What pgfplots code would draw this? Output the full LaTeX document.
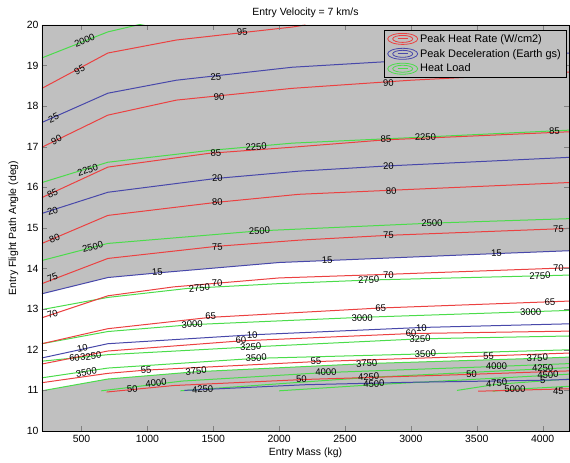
\documentclass[border=0pt]{standalone}
\usepackage{fontspec}
\setmainfont{Liberation Sans}
\usepackage{pgfplots}
\pgfplotsset{compat=1.18}

\definecolor{heatred}{RGB}{235,65,65}
\definecolor{decelblue}{RGB}{72,72,170}
\definecolor{loadgreen}{RGB}{75,220,75}
\definecolor{shade}{RGB}{192,192,192}

\pgfplotsset{
  heat/.style={draw=heatred, line width=1bp, forget plot},
  decel/.style={draw=decelblue, line width=1bp, forget plot},
  load/.style={draw=loadgreen, line width=1bp, forget plot},
  contour legend/.style={legend image code/.code={
    \draw[##1] (16bp,0bp) ellipse (15bp and 5.5bp);
    \draw[##1] (16bp,0bp) ellipse (10bp and 3.5bp);
    \draw[##1] (11bp,0bp) -- (21bp,0bp);}},
}
\tikzset{clab/.style={font=\fontsize{9.5}{10}\selectfont, inner sep=0pt, text=black}}

\begin{document}
\begin{tikzpicture}
\begin{axis}[
  scale only axis, width=527bp, height=406bp,
  xmin=200, xmax=4200, ymin=10, ymax=20,
  xtick={500,1000,...,4000}, ytick={10,11,...,20},
  tick align=inside, tick pos=both, major tick length=5bp,
  tick label style={font=\fontsize{10.5}{12}\selectfont},
  xticklabel style={yshift=-1bp},
  /pgf/number format/assume math mode=true,
  /pgf/number format/1000 sep={},
  xlabel={Entry Mass (kg)},
  ylabel={Entry Flight Path Angle (deg)},
  title={Entry Velocity = 7 km/s},
  label style={font=\fontsize{10.5}{12}\selectfont},
  title style={font=\fontsize{10.5}{12}\selectfont, at={(axis description cs:0.5,1)}, anchor=base, yshift=4bp},
  xlabel style={at={(axis description cs:0.5,-0.054)}, anchor=center},
  ylabel style={at={(axis description cs:-0.054,0.5)}, anchor=center},
  axis on top,
  legend cell align=left,
  legend style={at={(0.9943,0.9877)}, anchor=north east, fill=shade, draw=black,
    font=\fontsize{11}{13}\selectfont, row sep=1.5bp, inner xsep=3bp, inner ysep=2bp},
]
% shaded regions: deceleration above 15 g, heat load above 3750
\addplot[fill=shade, draw=none, forget plot] coordinates {(200,20) (200,13.38) (700,13.78) (1100,13.90) (2000,14.15) (3650,14.37) (4200,14.44) (4200,20)} -- cycle;
\addplot[fill=shade, draw=none, forget plot] coordinates {(200,10) (200,10.99) (700,11.28) (1370,11.46) (2665,11.66) (3960,11.79) (4200,11.82) (4200,10)} -- cycle;

% legend entries
\addlegendimage{contour legend, draw=heatred, line width=0.8bp}
\addlegendentry{Peak Heat Rate (W/cm2)}
\addlegendimage{contour legend, draw=decelblue, line width=0.8bp}
\addlegendentry{Peak Deceleration (Earth gs)}
\addlegendimage{contour legend, draw=loadgreen, line width=0.8bp}
\addlegendentry{Heat Load}

% heat load contours
\addplot[load] coordinates {(200,19.19) (700,19.83) (925,20.0) (1000,20.05)};
\addplot[load] coordinates {(200,16.12) (700,16.62) (1470,16.91) (2100,17.09) (3100,17.24) (4200,17.41)};
\addplot[load] coordinates {(200,14.20) (700,14.62) (1850,14.93) (3160,15.12) (4200,15.23)};
\addplot[load] coordinates {(200,12.99) (700,13.29) (1300,13.51) (2000,13.63) (2700,13.72) (4200,13.84)};
\addplot[load] coordinates {(200,12.15) (700,12.45) (1340,12.62) (2630,12.80) (4200,12.97)};
\addplot[load] coordinates {(200,11.72) (700,11.88) (1785,12.07) (3070,12.27) (4200,12.34)};
\addplot[load] coordinates {(200,11.31) (700,11.55) (1825,11.79) (3110,11.90) (4200,12.00)};
\addplot[load] coordinates {(200,10.99) (700,11.28) (1370,11.46) (2665,11.66) (3960,11.79) (4200,11.82)};
\addplot[load] coordinates {(650,10.99) (1265,11.23) (2355,11.44) (3650,11.59) (4200,11.66)};
\addplot[load] coordinates {(1250,10.99) (1420,11.03) (2680,11.32) (4000,11.53) (4200,11.56)};
\addplot[load] coordinates {(2000,10.99) (2720,11.14) (4040,11.37) (4200,11.40)};
\addplot[load] coordinates {(3350,11.00) (3650,11.15) (4200,11.28)};
\addplot[load] coordinates {(3620,10.98) (3790,11.03) (4200,11.10)};

% peak heat rate contours
\addplot[heat] coordinates {(200,18.44) (700,19.31) (1220,19.63) (2100,19.95) (2200,20.0)};
\addplot[heat] coordinates {(200,16.99) (700,17.78) (1220,18.15) (2100,18.44) (3000,18.64) (4200,18.84)};
\addplot[heat] coordinates {(200,15.75) (700,16.50) (1470,16.84) (2100,16.99) (2800,17.17) (4200,17.37)};
\addplot[heat] coordinates {(200,14.62) (700,15.31) (1520,15.63) (2150,15.83) (2850,15.93) (4200,16.12)};
\addplot[heat] coordinates {(200,13.63) (700,14.25) (1530,14.55) (2150,14.70) (2830,14.82) (4200,14.99)};
\addplot[heat] coordinates {(200,12.79) (700,13.33) (1200,13.55) (2000,13.77) (2830,13.86) (4200,14.02)};
\addplot[heat] coordinates {(200,12.15) (700,12.52) (1480,12.80) (2770,13.03) (4200,13.20)};
\addplot[heat] coordinates {(200,11.65) (700,11.97) (1710,12.22) (3000,12.40) (4200,12.46)};
\addplot[heat] coordinates {(200,11.19) (700,11.42) (990,11.50) (2280,11.71) (3590,11.85) (4200,11.92)};
\addplot[heat] coordinates {(690,10.96) (1200,11.12) (2200,11.27) (3400,11.39) (4200,11.48)};
\addplot[heat] coordinates {(3510,10.98) (4200,11.04)};

% peak deceleration contours
\addplot[decel] coordinates {(200,17.60) (700,18.32) (1220,18.64) (2100,18.96) (2780,19.09) (4200,19.31)};
\addplot[decel] coordinates {(200,15.36) (700,15.88) (1520,16.22) (2150,16.40) (2830,16.53) (4200,16.74)};
\addplot[decel] coordinates {(200,13.38) (700,13.78) (1100,13.90) (2000,14.15) (3650,14.37) (4200,14.44)};
\addplot[decel] coordinates {(200,11.80) (700,12.15) (1800,12.37) (3080,12.55) (4200,12.64)};
\addplot[decel] coordinates {(1280,11.00) (2200,11.14) (3000,11.20) (4000,11.25) (4200,11.27)};

% contour labels
\node[clab, rotate=22] at (axis cs:523,19.61) {2000};
\node[clab, rotate=28] at (axis cs:485,18.89) {95};
\node[clab, rotate=6] at (axis cs:1720,19.83) {95};
\node[clab, rotate=24] at (axis cs:288,17.71) {25};
\node[clab, rotate=5] at (axis cs:1520,18.72) {25};
\node[clab, rotate=26] at (axis cs:310,17.17) {90};
\node[clab, rotate=5] at (axis cs:1545,18.23) {90};
\node[clab, rotate=4] at (axis cs:2830,18.57) {90};
\node[clab, rotate=17] at (axis cs:547,16.43) {2250};
\node[clab, rotate=4] at (axis cs:1825,17.00) {2250};
\node[clab, rotate=3] at (axis cs:3110,17.24) {2250};
\node[clab, rotate=25] at (axis cs:280,15.86) {85};
\node[clab, rotate=5] at (axis cs:1520,16.85) {85};
\node[clab, rotate=3] at (axis cs:2810,17.19) {85};
\node[clab, rotate=3] at (axis cs:4090,17.39) {85};
\node[clab, rotate=18] at (axis cs:280,15.42) {20};
\node[clab, rotate=5] at (axis cs:1530,16.23) {20};
\node[clab, rotate=3] at (axis cs:2830,16.53) {20};
\node[clab, rotate=23] at (axis cs:295,14.75) {80};
\node[clab, rotate=5] at (axis cs:1530,15.64) {80};
\node[clab, rotate=3] at (axis cs:2850,15.91) {80};
\node[clab, rotate=15] at (axis cs:585,14.53) {2500};
\node[clab, rotate=3] at (axis cs:1850,14.93) {2500};
\node[clab, rotate=3] at (axis cs:3160,15.12) {2500};
\node[clab, rotate=21] at (axis cs:280,13.77) {75};
\node[clab, rotate=5] at (axis cs:1530,14.53) {75};
\node[clab, rotate=3] at (axis cs:2830,14.83) {75};
\node[clab, rotate=3] at (axis cs:4120,14.98) {75};
\node[clab, rotate=5] at (axis cs:1075,13.92) {15};
\node[clab, rotate=3] at (axis cs:2365,14.21) {15};
\node[clab, rotate=3] at (axis cs:3650,14.38) {15};
\node[clab, rotate=19] at (axis cs:280,12.88) {70};
\node[clab, rotate=4] at (axis cs:1395,13.52) {2750};
\node[clab, rotate=4] at (axis cs:1530,13.64) {70};
\node[clab, rotate=3] at (axis cs:2680,13.72) {2750};
\node[clab, rotate=3] at (axis cs:2830,13.84) {70};
\node[clab, rotate=3] at (axis cs:3980,13.82) {2750};
\node[clab, rotate=3] at (axis cs:4120,14.01) {70};
\node[clab, rotate=4] at (axis cs:1480,12.83) {65};
\node[clab, rotate=4] at (axis cs:1340,12.63) {3000};
\node[clab, rotate=3] at (axis cs:2770,13.03) {65};
\node[clab, rotate=3] at (axis cs:2630,12.78) {3000};
\node[clab, rotate=3] at (axis cs:4055,13.18) {65};
\node[clab, rotate=3] at (axis cs:3910,12.93) {3000};
\node[clab, rotate=12] at (axis cs:507,12.04) {10};
\node[clab, rotate=3] at (axis cs:1795,12.36) {10};
\node[clab, rotate=3] at (axis cs:3080,12.54) {10};
\node[clab, rotate=8] at (axis cs:447,11.80) {60};
\node[clab, rotate=6] at (axis cs:570,11.84) {3250};
\node[clab, rotate=3] at (axis cs:1710,12.24) {60};
\node[clab, rotate=3] at (axis cs:1785,12.07) {3250};
\node[clab, rotate=2] at (axis cs:3000,12.41) {60};
\node[clab, rotate=2] at (axis cs:3070,12.27) {3250};
\node[clab, rotate=10] at (axis cs:537,11.45) {3500};
\node[clab, rotate=3] at (axis cs:1825,11.80) {3500};
\node[clab, rotate=2] at (axis cs:3110,11.90) {3500};
\node[clab, rotate=5] at (axis cs:990,11.50) {55};
\node[clab, rotate=3] at (axis cs:2280,11.72) {55};
\node[clab, rotate=2] at (axis cs:3590,11.85) {55};
\node[clab, rotate=5] at (axis cs:1370,11.48) {3750};
\node[clab, rotate=3] at (axis cs:2665,11.67) {3750};
\node[clab, rotate=2] at (axis cs:3960,11.80) {3750};
\node[clab, rotate=6] at (axis cs:885,11.03) {50};
\node[clab, rotate=6] at (axis cs:1065,11.18) {4000};
\node[clab, rotate=4] at (axis cs:1420,11.03) {4250};
\node[clab, rotate=3] at (axis cs:2170,11.28) {50};
\node[clab, rotate=3] at (axis cs:2355,11.45) {4000};
\node[clab, rotate=4] at (axis cs:2680,11.33) {4250};
\node[clab, rotate=4] at (axis cs:2720,11.16) {4500};
\node[clab, rotate=2] at (axis cs:3460,11.40) {50};
\node[clab, rotate=2] at (axis cs:3650,11.60) {4000};
\node[clab, rotate=3] at (axis cs:4000,11.55) {4250};
\node[clab, rotate=3] at (axis cs:4040,11.38) {4500};
\node[clab, rotate=4] at (axis cs:3650,11.18) {4750};
\node[clab, rotate=3] at (axis cs:3790,11.03) {5000};
\node[clab] at (axis cs:4000,11.25) {5};
\node[clab] at (axis cs:4120,10.99) {45};
\end{axis}
\pgfresetboundingbox
\useasboundingbox ([xshift=-42bp,yshift=-32bp]current axis.south west) rectangle ([xshift=1bp,yshift=25bp]current axis.north east);
\end{tikzpicture}
\end{document}
